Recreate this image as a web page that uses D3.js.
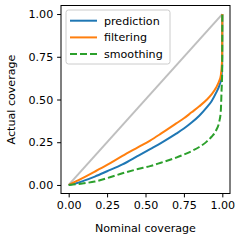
<!DOCTYPE html>
<html>
<head>
<meta charset="utf-8">
<script src="https://cdn.jsdelivr.net/npm/d3@7"></script>
<style>
	body { margin: 0; background: #fff; }
	text { font-family: "DejaVu Sans", sans-serif; fill: #000; }
</style>
</head>
<body>
<script>
// values
const nominal    = [0, 0.05, 0.1, 0.17, 0.25, 0.35, 0.45, 0.53, 0.6, 0.7, 0.75, 0.8, 0.85, 0.9, 0.93, 0.96, 0.98, 0.99, 0.995, 0.999, 1.0];
const prediction = [0, 0.01, 0.025, 0.049, 0.08, 0.12, 0.17, 0.21, 0.245, 0.3, 0.33, 0.365, 0.405, 0.455, 0.49, 0.54, 0.58, 0.61, 0.64, 0.70, 1.0];
const filtering  = [0, 0.022, 0.045, 0.078, 0.117, 0.17, 0.22, 0.26, 0.3, 0.36, 0.39, 0.425, 0.46, 0.50, 0.53, 0.57, 0.61, 0.64, 0.68, 0.75, 1.0];
const smoothing  = [0, 0.004, 0.01, 0.02, 0.04, 0.068, 0.093, 0.11, 0.13, 0.16, 0.178, 0.198, 0.222, 0.255, 0.282, 0.32, 0.37, 0.43, 0.55, 0.66, 1.0];
const seriesNames = ["prediction", "filtering", "smoothing"];
const ticks = [0, 0.25, 0.5, 0.75, 1.0];

const width = 240, height = 240;
const plotLeft = 61, plotRight = 230, plotTop = 5.5, plotBottom = 193.5;
const lw = 2;

const x = d3.scaleLinear().domain([-0.05, 1.05]).range([plotLeft, plotRight]);
const y = d3.scaleLinear().domain([-0.05, 1.05]).range([plotBottom, plotTop]);

const svg = d3.select("body")
	.append("svg")
	.attr("width", width)
	.attr("height", height);

const line = d3.line()
	.x(d => x(d[0]))
	.y(d => y(d[1]))
	.curve(d3.curveMonotoneX);

// diagonal reference
svg.append("path")
	.datum([[0, 0], [1, 1]])
	.attr("d", line)
	.attr("fill", "none")
	.attr("stroke", "#bfbfbf")
	.attr("stroke-width", lw);

const series = [
	{ name: seriesNames[0], values: prediction, color: "#1f77b4", dash: null },
	{ name: seriesNames[1], values: filtering, color: "#ff7f0e", dash: null },
	{ name: seriesNames[2], values: smoothing, color: "#2ca02c", dash: "7,3" }
];

svg.selectAll("path.curve")
	.data(series)
	.join("path")
	.attr("class", "curve")
	.attr("d", s => line(nominal.map((n, i) => [n, s.values[i]])))
	.attr("fill", "none")
	.attr("stroke", s => s.color)
	.attr("stroke-width", lw)
	.attr("stroke-dasharray", s => s.dash);

// axes
const xAxis = svg.append("g")
	.attr("transform", "translate(0," + plotBottom + ")")
	.call(d3.axisBottom(x).tickValues(ticks).tickFormat(d3.format(".2f")).tickSize(3.9).tickPadding(3.9));
const yAxis = svg.append("g")
	.attr("transform", "translate(" + plotLeft + ",0)")
	.call(d3.axisLeft(y).tickValues(ticks).tickFormat(d3.format(".2f")).tickSize(3.9).tickPadding(3.9));

[xAxis, yAxis].forEach(a => {
	a.select(".domain").remove();
	a.selectAll("line").attr("stroke", "#000").attr("stroke-width", 1);
	a.selectAll("text").style("font-size", "11.1px").attr("font-family", "DejaVu Sans");
});

// frame
svg.append("rect")
	.attr("x", plotLeft)
	.attr("y", plotTop)
	.attr("width", plotRight - plotLeft)
	.attr("height", plotBottom - plotTop)
	.attr("fill", "none")
	.attr("stroke", "#000")
	.attr("stroke-width", 1);

// labels
svg.append("text")
	.attr("x", (plotLeft + plotRight) / 2)
	.attr("y", 232)
	.attr("text-anchor", "middle")
	.style("font-size", "11.1px")
	.text("Nominal coverage");

svg.append("text")
	.attr("transform", "translate(15," + ((plotTop + plotBottom) / 2) + ") rotate(-90)")
	.attr("text-anchor", "middle")
	.style("font-size", "11.1px")
	.text("Actual coverage");

// legend
const legend = svg.append("g");
legend.append("rect")
	.attr("x", 66)
	.attr("y", 10)
	.attr("width", 104)
	.attr("height", 54)
	.attr("rx", 2.5)
	.attr("fill", "#fff")
	.attr("fill-opacity", 0.8)
	.attr("stroke", "#cccccc")
	.attr("stroke-width", 1);

const rows = legend.selectAll("g.row")
	.data(series)
	.join("g")
	.attr("class", "row")
	.attr("transform", (s, i) => "translate(0," + (20.7 + i * 16.7) + ")");

rows.append("line")
	.attr("x1", 70)
	.attr("x2", 97)
	.attr("stroke", s => s.color)
	.attr("stroke-width", lw)
	.attr("stroke-dasharray", s => s.dash);

rows.append("text")
	.attr("x", 104)
	.attr("dy", "0.35em")
	.style("font-size", "11.1px")
	.text(s => s.name);
</script>
</body>
</html>
